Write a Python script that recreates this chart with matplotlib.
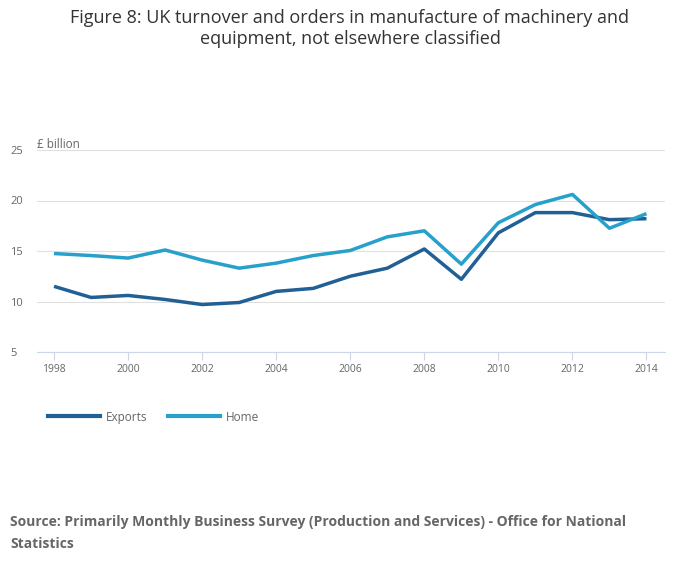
import matplotlib.pyplot as plt
import matplotlib.lines as mlines

plt.rcParams['font.family'] = ['Open Sans', 'DejaVu Sans']

years = list(range(1998, 2015))
exports = [11.5, 10.4, 10.6, 10.2, 9.7, 9.9, 11.0, 11.3, 12.5, 13.3, 15.2,
           12.2, 16.8, 18.8, 18.8, 18.1, 18.2]
home = [14.75, 14.55, 14.3, 15.1, 14.1, 13.3, 13.8, 14.55, 15.05, 16.4, 17.0,
        13.7, 17.8, 19.6, 20.6, 17.25, 18.7]
series_names = ['Exports', 'Home']
colors = ['#206095', '#27a0cc']
xticks = list(range(1998, 2015, 2))
yticks = [5, 10, 15, 20, 25]

W, H = 700, 574
fig = plt.figure(figsize=(7, 5.74), dpi=100)
ax = fig.add_axes([37 / W, 1 - 352 / H, (665 - 37) / W, (352 - 150) / H])

for vals, name, c in zip([exports, home], series_names, colors):
    ax.plot(years, vals, color=c, lw=2.5, label=name, solid_capstyle='butt')

ax.set_xlim(1997.54, 2014.5)
ax.set_ylim(5, 25)
ax.set_yticks(yticks)
ax.set_yticklabels([])
ax.set_xticks(xticks)
ax.grid(axis='y', color='#e0e0e0', lw=0.8)
ax.set_axisbelow(True)
for s in ['top', 'right', 'left']:
    ax.spines[s].set_visible(False)
ax.spines['bottom'].set_color('#ccd6eb')
ax.tick_params(axis='y', length=0)
ax.tick_params(axis='x', length=6, color='#ccd6eb', labelsize=7.5,
               colors='#666666', pad=3)

# y labels left aligned at the figure edge, like the original
for v in yticks:
    ax.text(-27 / 628, v, str(v), transform=ax.get_yaxis_transform(),
            ha='left', va='center_baseline', fontsize=8, color='#666666')

fig.text(37 / W, 1 - 143 / H, '£ billion', fontsize=8.5, color='#666666',
         va='center_baseline')

fig.text(0.5, 1 - 18 / H, 'Figure 8: UK turnover and orders in manufacture of machinery and',
         ha='center', va='center', fontsize=13, color='#333333')
fig.text(0.5, 1 - 39 / H, 'equipment, not elsewhere classified',
         ha='center', va='center', fontsize=13, color='#333333')

# legend drawn by hand below the axes
ly = 1 - 416 / H
for x0, name, c in [(48, series_names[0], colors[0]), (168, series_names[1], colors[1])]:
    fig.add_artist(mlines.Line2D([x0 / W, (x0 + 52) / W], [ly, ly], color=c, lw=3))
    fig.text((x0 + 58) / W, ly, name, fontsize=8.5, color='#666666',
             va='center_baseline')

fig.text(10 / W, 1 - 522 / H,
         'Source: Primarily Monthly Business Survey (Production and Services) - Office for National',
         fontsize=10, fontweight='bold', color='#666666', va='center')
fig.text(10 / W, 1 - 544 / H, 'Statistics',
         fontsize=10, fontweight='bold', color='#666666', va='center')

fig.savefig('out.png', dpi=100)
